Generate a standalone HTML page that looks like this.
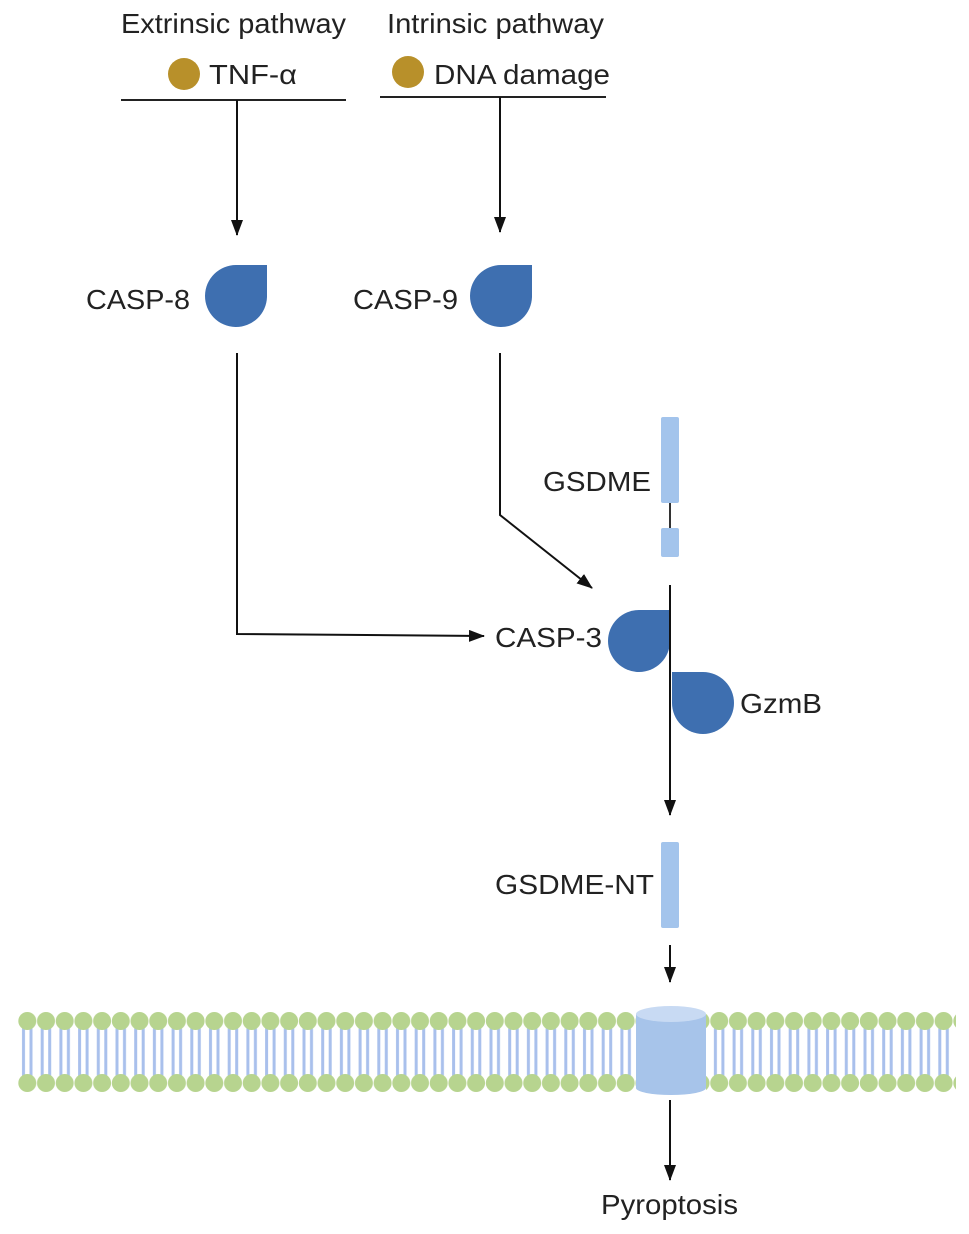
<!DOCTYPE html>
<html><head><meta charset="utf-8"><style>
html,body{margin:0;padding:0;background:#fff}
svg{display:block}
text{font-family:"Liberation Sans",Arial,sans-serif;font-size:28px;fill:#222}
</style></head><body>
<svg width="969" height="1234" viewBox="0 0 969 1234" xmlns="http://www.w3.org/2000/svg">
<defs>
<marker id="ah" markerWidth="16" markerHeight="12" refX="15" refY="6" orient="auto" markerUnits="userSpaceOnUse" viewBox="0 0 16 12">
<path d="M0,0 L16,6 L0,12 z" fill="#111"/></marker>
<pattern id="mem" x="18" y="0" width="18.7" height="1234" patternUnits="userSpaceOnUse">
<rect x="4" y="1021" width="3" height="62" fill="#a9c0ec"/>
<rect x="11.5" y="1021" width="3" height="62" fill="#a9c0ec"/>
<circle cx="9.3" cy="1021" r="9" fill="#b7d48f"/>
<circle cx="9.3" cy="1083" r="9" fill="#b7d48f"/>
</pattern>
</defs>
<text x="121" y="33" textLength="225" lengthAdjust="spacingAndGlyphs">Extrinsic pathway</text>
<text x="387" y="33" textLength="217" lengthAdjust="spacingAndGlyphs">Intrinsic pathway</text>
<circle cx="184" cy="74" r="16" fill="#b8902a"/>
<text x="209" y="84" textLength="88" lengthAdjust="spacingAndGlyphs">TNF-α</text>
<circle cx="408" cy="72" r="16" fill="#b8902a"/>
<text x="434" y="84" textLength="176" lengthAdjust="spacingAndGlyphs">DNA damage</text>
<line x1="121" y1="100" x2="346" y2="100" stroke="#222" stroke-width="2"/>
<line x1="380" y1="97" x2="606" y2="97" stroke="#222" stroke-width="2"/>
<line x1="237" y1="100" x2="237" y2="235" stroke="#111" stroke-width="2" marker-end="url(#ah)"/>
<line x1="500" y1="97" x2="500" y2="232" stroke="#111" stroke-width="2" marker-end="url(#ah)"/>
<text x="86" y="309" textLength="104" lengthAdjust="spacingAndGlyphs">CASP-8</text>
<path d="M267,265 V297 A31,31 0 1 1 236,265 Z" fill="#3e6fb0"/>
<text x="353" y="309" textLength="105" lengthAdjust="spacingAndGlyphs">CASP-9</text>
<path d="M532,265 V297 A31,31 0 1 1 501,265 Z" fill="#3e6fb0"/>
<polyline points="237,353 237,634 484,636" fill="none" stroke="#111" stroke-width="2" marker-end="url(#ah)"/>
<polyline points="500,353 500,515 592,588" fill="none" stroke="#111" stroke-width="2" marker-end="url(#ah)"/>
<text x="543" y="491" textLength="108" lengthAdjust="spacingAndGlyphs">GSDME</text>
<rect x="661" y="417" width="18" height="86" rx="2" fill="#a3c4ec"/>
<line x1="670" y1="503" x2="670" y2="528" stroke="#333" stroke-width="2"/>
<rect x="661" y="528" width="18" height="29" rx="2" fill="#a3c4ec"/>
<text x="495" y="647" textLength="107" lengthAdjust="spacingAndGlyphs">CASP-3</text>
<path d="M670,610 V641 A31,31 0 1 1 639,610 Z" fill="#3e6fb0"/>
<path d="M672,672 H703 A31,31 0 1 1 672,703 Z" fill="#3e6fb0"/>
<line x1="670" y1="585" x2="670" y2="815" stroke="#111" stroke-width="2" marker-end="url(#ah)"/>
<text x="740" y="713" textLength="82" lengthAdjust="spacingAndGlyphs">GzmB</text>
<text x="495" y="894" textLength="159" lengthAdjust="spacingAndGlyphs">GSDME-NT</text>
<rect x="661" y="842" width="18" height="86" rx="2" fill="#a3c4ec"/>
<line x1="670" y1="945" x2="670" y2="982" stroke="#111" stroke-width="2" marker-end="url(#ah)"/>
<rect x="18" y="1005" width="938" height="95" fill="url(#mem)"/>
<rect x="636" y="1005" width="70" height="92" fill="#fff"/>
<path d="M636,1014 V1088 A35,7 0 0 0 706,1088 V1014 Z" fill="#a7c4ea"/>
<ellipse cx="671" cy="1014" rx="35" ry="8" fill="#c8daf3"/>
<line x1="670" y1="1100" x2="670" y2="1180" stroke="#111" stroke-width="2" marker-end="url(#ah)"/>
<text x="601" y="1214" textLength="137" lengthAdjust="spacingAndGlyphs">Pyroptosis</text>
</svg>
</body></html>
